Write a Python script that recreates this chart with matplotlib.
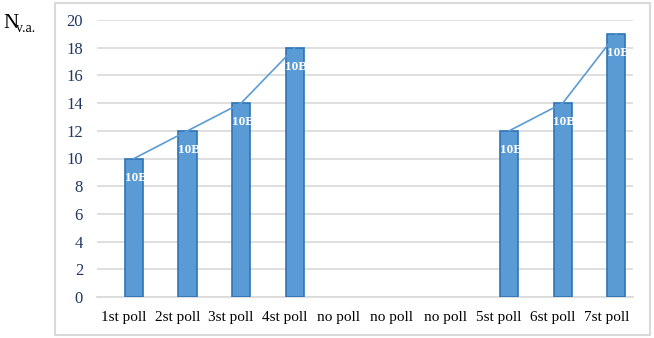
import numpy as np
import matplotlib
matplotlib.use("Agg")
import matplotlib.pyplot as plt
from matplotlib.patches import Rectangle

# data
polls = ["1st poll", "2st poll", "3st poll", "4st poll", "no poll", "no poll",
         "no poll", "5st poll", "6st poll", "7st poll"]
values = [10, 12, 14, 18, 0, 0, 0, 12, 14, 19]
trend = [10, 12, 14, 18, np.nan, np.nan, np.nan, 12, 14, 19]
bar_label = "10B"
yticks = list(range(0, 21, 2))

plt.rcParams['font.family'] = ['Liberation Serif', 'DejaVu Serif']

fig = plt.figure(figsize=(6.54, 3.38), dpi=100)
# outer chart border
fig.patches.append(Rectangle((55 / 654, 3 / 338), 595 / 654, 332 / 338,
                             transform=fig.transFigure, fill=False,
                             edgecolor='#D9D9D9', linewidth=1.5))

ax = fig.add_axes([97 / 654, 41 / 338, 536 / 654, 277 / 338])
x = np.arange(len(polls))
shift = 0.19  # bars sit right of the category centre, as in the source
bars = ax.bar(x + shift, values, width=0.34, color='#5B9BD5',
              edgecolor='#2E75B6', linewidth=1.2, zorder=3)
ax.plot(x + shift, trend, color='#5B9BD5', linewidth=1.2, zorder=4)

for b, v in zip(bars, values):
    if v <= 0:
        b.set_visible(False)
        continue
    t = ax.text(b.get_x() + b.get_width() / 2 + 0.03, v - 1.4, bar_label,
                ha='center', va='center', color='white', fontsize=9.5,
                fontweight='bold', zorder=5)
    t.set_clip_path(b)

ax.set_xlim(-0.5, 9.5)
ax.set_ylim(0, 20)
ax.set_yticks(yticks)
ax.set_xticks(x)
ax.set_xticklabels(polls, fontsize=11)
ax.tick_params(axis='y', labelsize=12, labelcolor='#1F3864', length=0, pad=10)
ax.tick_params(axis='x', length=0, pad=10)
ax.grid(axis='y', color='#D9D9D9', linewidth=1.2, zorder=0)
for s in ['top', 'right', 'left']:
    ax.spines[s].set_visible(False)
ax.spines['bottom'].set_color('#D9D9D9')
ax.spines['bottom'].set_linewidth(1.2)

fig.text(3 / 654, 1 - 24 / 338, "N", fontsize=15, va='center', ha='left')
fig.text(16 / 654, 1 - 29 / 338, "v.a.", fontsize=10, va='center', ha='left')

fig.savefig("out.png", dpi=100)
